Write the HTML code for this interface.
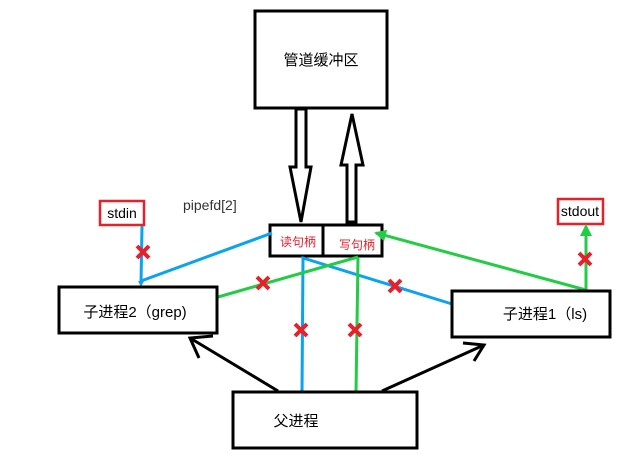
<!DOCTYPE html>
<html><head><meta charset="utf-8"><style>
html,body{margin:0;padding:0;background:#fff;width:637px;height:460px;overflow:hidden}
text{font-family:"Liberation Sans","Noto Sans CJK SC",sans-serif}
</style></head><body>
<svg width="637" height="460" viewBox="0 0 637 460" xmlns="http://www.w3.org/2000/svg">
<defs>
<marker id="bl" markerWidth="6" markerHeight="6" refX="3" refY="3" orient="auto" markerUnits="userSpaceOnUse"><path d="M0,0 L6,3 L0,6 Z" fill="#0aa3ef"/></marker>
<marker id="gr" markerWidth="12" markerHeight="12" refX="10" refY="6" orient="auto" markerUnits="userSpaceOnUse"><path d="M0,0 L12,6 L0,12 Z" fill="#22cc44"/></marker>
</defs>
<!-- pipe buffer -->
<rect x="255" y="11" width="132" height="97" fill="#fff" stroke="#000" stroke-width="3"/>
<text x="321" y="65" font-size="15" text-anchor="middle">管道缓冲区</text>
<!-- hollow arrows -->
<path d="M296,109 L306,109 L306,167 L311,167 L301,222 L290,167 L296,167 Z" fill="#fff" stroke="#000" stroke-width="3"/>
<path d="M347,222 L356,222 L356,165 L363,165 L352,114 L341,165 L347,165 Z" fill="#fff" stroke="#000" stroke-width="3"/>
<!-- handle box -->
<rect x="270" y="225" width="112" height="31" fill="#fff" stroke="#000" stroke-width="3"/>
<line x1="323" y1="225" x2="323" y2="256" stroke="#000" stroke-width="3"/>
<text x="298" y="246" font-size="12" fill="#e8202a" text-anchor="middle">读句柄</text>
<text x="357" y="249" font-size="12" fill="#e8202a" text-anchor="middle">写句柄</text>
<text x="183" y="210" font-size="14" fill="#333">pipefd[2]</text>
<!-- stdin / stdout -->
<rect x="100" y="201" width="44" height="24" fill="#fff" stroke="#e8202a" stroke-width="2.5"/>
<text x="122" y="218" font-size="14" text-anchor="middle">stdin</text>
<rect x="558" y="199" width="45" height="25" fill="#fff" stroke="#e8202a" stroke-width="2.5"/>
<text x="580" y="216" font-size="14" text-anchor="middle">stdout</text>
<!-- blue lines -->
<g stroke="#0aa3ef" stroke-width="3" fill="none">
<line x1="142" y1="226" x2="141" y2="284" marker-end="url(#bl)"/>
<line x1="141" y1="281" x2="272" y2="233"/>
<polyline points="302,393 303,258 452,304"/>
</g>
<!-- green lines -->
<g stroke="#22cc44" stroke-width="3" fill="none">
<line x1="218" y1="297" x2="358" y2="257"/>
<line x1="358" y1="257" x2="356" y2="393"/>
<line x1="586" y1="290" x2="376" y2="233" marker-end="url(#gr)"/>
<line x1="586" y1="290" x2="586" y2="226" marker-end="url(#gr)"/>
</g>
<!-- boxes -->
<rect x="59" y="287" width="158" height="46" fill="#fff" stroke="#000" stroke-width="3"/>
<text x="135" y="317" font-size="15" text-anchor="middle">子进程2（grep)</text>
<rect x="452" y="291" width="158" height="46" fill="#fff" stroke="#000" stroke-width="3"/>
<text x="545" y="319" font-size="15" text-anchor="middle">子进程1（ls)</text>
<rect x="233" y="392" width="184" height="56" fill="#fff" stroke="#000" stroke-width="3"/>
<text x="296" y="426" font-size="15" text-anchor="middle">父进程</text>
<!-- black arrows -->
<g stroke="#000" stroke-width="3" fill="none">
<line x1="278" y1="391" x2="190" y2="338"/>
<polyline points="213,336 190,338 199,358"/>
<line x1="382" y1="391" x2="484" y2="345"/>
<polyline points="463,343 484,345 474,361"/>
</g>
<!-- red X marks -->
<g stroke="#e8202a" stroke-width="4">
<path d="M137,246 L149,258 M149,246 L137,258"/>
<path d="M257,277 L269,289 M269,277 L257,289"/>
<path d="M389,280 L401,292 M401,280 L389,292"/>
<path d="M295,324 L307,336 M307,324 L295,336"/>
<path d="M349,324 L361,336 M361,324 L349,336"/>
<path d="M579,253 L591,265 M591,253 L579,265"/>
</g>
</svg>
</body></html>
